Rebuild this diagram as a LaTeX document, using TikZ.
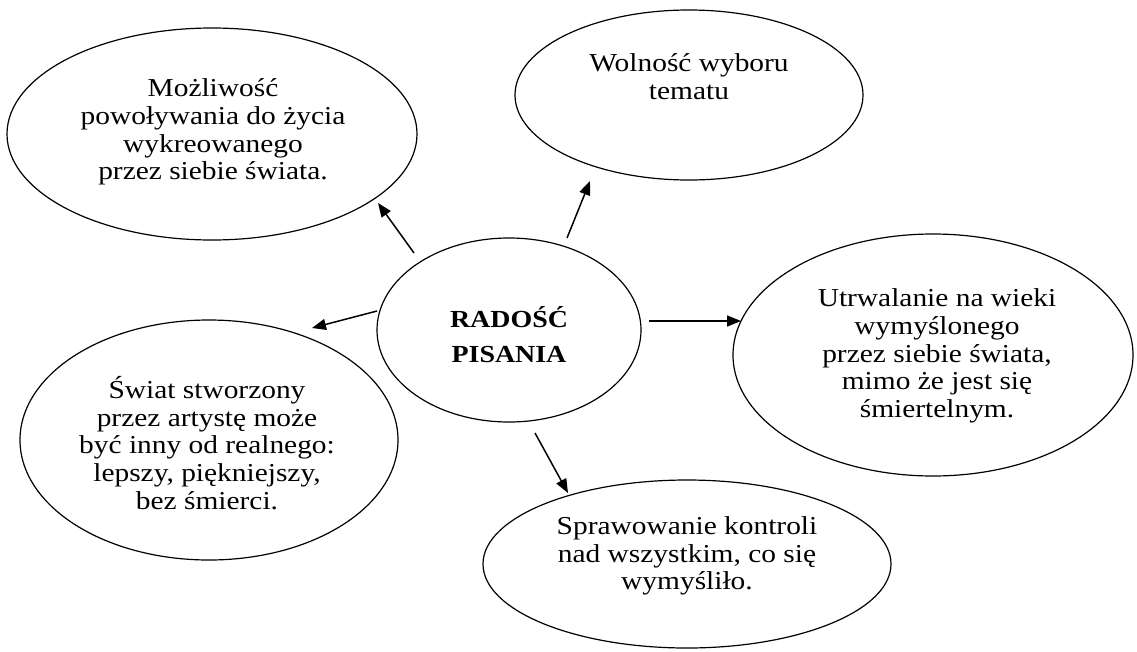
\documentclass[tikz,border=0pt]{standalone}
\usepackage{fontspec}
\setmainfont{Liberation Serif}[FakeStretch=1.14]
\usetikzlibrary{arrows.meta,shapes.geometric}
\begin{document}
\begin{tikzpicture}[x=1pt,y=-1pt,
  oval/.style={draw=black,line width=1.2pt,ellipse,inner sep=0pt},
  txt/.style={align=center,inner sep=0pt,font=\fontsize{25.8}{27.8}\selectfont},
  arr/.style={line width=1.5pt,-{Triangle[length=14pt,width=11pt]}}]
\useasboundingbox (0,0) rectangle (1137,651);
\node[oval,minimum width=410pt,minimum height=212pt] (tl) at (212,134) {};
\node[oval,minimum width=348pt,minimum height=170pt] (top) at (689,95) {};
\node[oval,minimum width=264pt,minimum height=184pt] (c) at (509,330) {};
\node[oval,minimum width=400pt,minimum height=242pt] (r) at (933,355) {};
\node[oval,minimum width=408pt,minimum height=168pt] (b) at (687,564) {};
\node[oval,minimum width=378pt,minimum height=240pt] (bl) at (209,440) {};

\node[txt] (tltxt) at (213,132) {Możliwość\\powoływania do życia\\wykreowanego\\przez siebie świata.};
\node[txt] (toptxt) at (689,77) {Wolność wyboru\\tematu};
\node[txt,font=\fontsize{24.5}{35}\selectfont\bfseries] (ctxt) at (509,335) {RADOŚĆ\\PISANIA};
\node[txt] (rtxt) at (937,356) {Utrwalanie na wieki\\wymyślonego\\przez siebie świata,\\mimo że jest się\\śmiertelnym.};
\node[txt] (btxt) at (687,556) {Sprawowanie kontroli\\nad wszystkim, co się\\wymyśliło.};
\node[txt] (bltxt) at (207,443) {Świat stworzony\\przez artystę może\\być inny od realnego:\\lepszy, piękniejszy,\\bez śmierci.};

\coordinate (s1) at (414,253); \coordinate (e1) at (378,203);
\coordinate (s2) at (567,238); \coordinate (e2) at (590,181);
\coordinate (s3) at (649,321); \coordinate (e3) at (741,321);
\coordinate (s4) at (377,311); \coordinate (e4) at (312,328);
\coordinate (s5) at (535,433); \coordinate (e5) at (568,493);
\draw[arr] (s1) -- (e1);
\draw[arr] (s2) -- (e2);
\draw[arr] (s3) -- (e3);
\draw[arr] (s4) -- (e4);
\draw[arr] (s5) -- (e5);
\end{tikzpicture}
\end{document}
